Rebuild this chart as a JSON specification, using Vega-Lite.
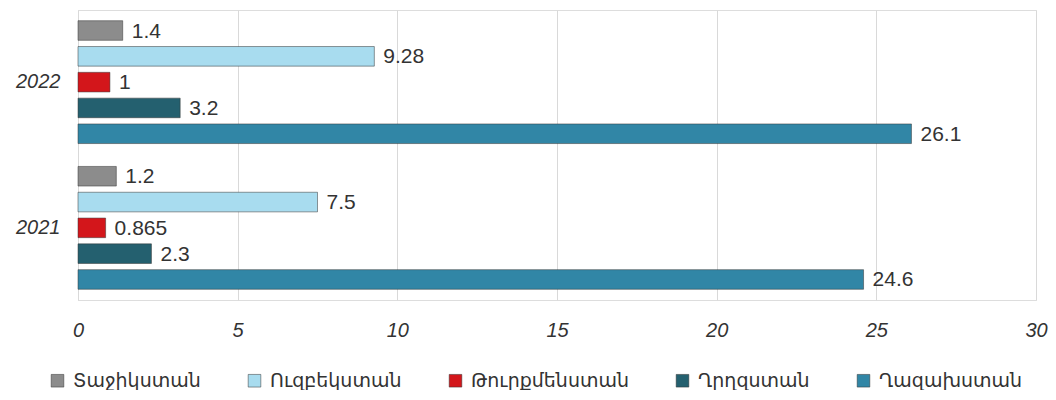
{
  "$schema": "https://vega.github.io/schema/vega-lite/v6.json",
  "autosize": "none",
  "padding": {"left": 78, "top": 10, "right": 20, "bottom": 90},
  "width": 958,
  "height": 290,
  "background": "white",
  "data": {
    "values": [
      {"year": "2022", "country": "Տաջիկստան", "value": 1.4},
      {"year": "2022", "country": "Ուզբեկստան", "value": 9.28},
      {"year": "2022", "country": "Թուրքմենստան", "value": 1},
      {"year": "2022", "country": "Ղրղզստան", "value": 3.2},
      {"year": "2022", "country": "Ղազախստան", "value": 26.1},
      {"year": "2021", "country": "Տաջիկստան", "value": 1.2},
      {"year": "2021", "country": "Ուզբեկստան", "value": 7.5},
      {"year": "2021", "country": "Թուրքմենստան", "value": 0.865},
      {"year": "2021", "country": "Ղրղզստան", "value": 2.3},
      {"year": "2021", "country": "Ղազախստան", "value": 24.6}
    ]
  },
  "encoding": {
    "y": {
      "field": "year", "type": "nominal",
      "sort": ["2022", "2021"],
      "scale": {"paddingInner": 0.15, "paddingOuter": 0.07},
      "axis": {
        "title": null, "ticks": false, "domain": true, "domainColor": "#d9d9d9",
        "labelFont": "Liberation Sans", "labelFontStyle": "italic", "labelFontSize": 20,
        "labelColor": "#333333", "labelPadding": 18
      }
    },
    "yOffset": {
      "field": "country", "type": "nominal",
      "sort": ["Տաջիկստան", "Ուզբեկստան", "Թուրքմենստան", "Ղրղզստան", "Ղազախստան"],
      "scale": {"paddingInner": 0.24, "paddingOuter": 0.02}
    },
    "x": {
      "field": "value", "type": "quantitative",
      "scale": {"domain": [0, 30], "nice": false},
      "axis": {
        "title": null, "values": [0, 5, 10, 15, 20, 25, 30], "ticks": false, "domain": false,
        "grid": true, "gridColor": "#d9d9d9", "gridWidth": 1, "labelFlush": false,
        "labelFont": "Liberation Sans", "labelFontStyle": "italic", "labelFontSize": 20,
        "labelColor": "#333333", "labelPadding": 20
      }
    }
  },
  "layer": [
    {
      "mark": {"type": "bar", "strokeWidth": 1, "strokeOpacity": 0.5, "stroke": "#333333"},
      "encoding": {
        "color": {
          "field": "country", "type": "nominal",
          "sort": ["Տաջիկստան", "Ուզբեկստան", "Թուրքմենստան", "Ղրղզստան", "Ղազախստան"],
          "scale": {
            "domain": ["Տաջիկստան", "Ուզբեկստան", "Թուրքմենստան", "Ղրղզստան", "Ղազախստան"],
            "range": ["#8c8c8c", "#a8dcef", "#d3161b", "#24606f", "#3186a6"]
          },
          "legend": {
            "title": null, "orient": "none", "direction": "horizontal",
            "legendX": -30, "legendY": 361,
            "symbolType": "square", "symbolSize": 160, "symbolStrokeWidth": 0.5,
            "labelFont": "DejaVu Sans", "labelFontSize": 19, "labelColor": "#333333",
            "labelOffset": 6, "columnPadding": 44, "labelLimit": 300
          }
        }
      }
    },
    {
      "mark": {"type": "text", "align": "left", "baseline": "middle", "dx": 9, "dy": 1,
        "font": "Liberation Sans", "fontSize": 21, "color": "#333333"},
      "encoding": {
        "text": {"field": "value", "type": "quantitative"}
      }
    }
  ]
}
